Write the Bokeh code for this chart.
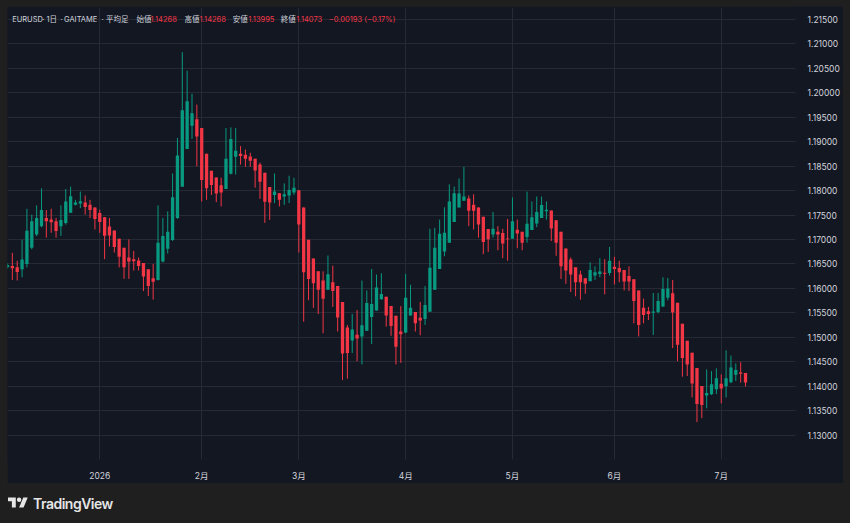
from bokeh.plotting import figure
from bokeh.models import Range1d, FixedTicker, NumeralTickFormatter, Label, Div
from bokeh.layouts import column
from bokeh.embed import file_html
from bokeh.resources import INLINE

# ---------------- data (Heikin-Ashi daily bars, EURUSD) ----------------
opens = [1.16430, 1.16456, 1.16430, 1.16390, 1.16497, 1.16829, 1.17103, 1.17272, 1.17440, 1.17406,
         1.17373, 1.17272, 1.17339, 1.17547, 1.17709, 1.17737, 1.17757, 1.17709, 1.17656, 1.17541,
         1.17454, 1.17264, 1.17183, 1.17016, 1.16829, 1.16632, 1.16598, 1.16571, 1.16517, 1.16390,
         1.16208, 1.16173, 1.16551, 1.16808, 1.16990, 1.17440, 1.18080, 1.18848, 1.19325, 1.19460,
         1.19278, 1.18753, 1.18404, 1.18268, 1.18107, 1.18032, 1.18343, 1.18692, 1.18753, 1.18733,
         1.18698, 1.18652, 1.18531, 1.18363, 1.18072, 1.17911, 1.17945, 1.17878, 1.17899, 1.17959,
         1.18006, 1.17656, 1.16996, 1.16612, 1.16349, 1.16161, 1.15971, 1.16127, 1.16046, 1.15723,
         1.15198, 1.14935, 1.15050, 1.15016, 1.15131, 1.15414, 1.15547, 1.15778, 1.15830, 1.15642,
         1.15440, 1.15117, 1.15097, 1.15446, 1.15515, 1.15400, 1.15374, 1.15521, 1.15971, 1.16396,
         1.16753, 1.16935, 1.17359, 1.17656, 1.17790, 1.17840, 1.17709, 1.17656, 1.17466, 1.17212,
         1.17103, 1.17157, 1.17131, 1.17022, 1.17016, 1.17198, 1.17157, 1.17050, 1.17192, 1.17325,
         1.17440, 1.17575, 1.17590, 1.17394, 1.17157, 1.16814, 1.16592, 1.16430, 1.16283, 1.16208,
         1.16147, 1.16262, 1.16295, 1.16319, 1.16315, 1.16440, 1.16416, 1.16375, 1.16254, 1.16188,
         1.15959, 1.15606, 1.15530, 1.15503, 1.15515, 1.15629, 1.15808, 1.15902, 1.15705, 1.15277,
         1.14928, 1.14686, 1.14370, 1.14003, 1.13810, 1.13835, 1.13938, 1.14050, 1.14001, 1.14082,
         1.14233, 1.14281, 1.14268]
highs = [1.16511, 1.16727, 1.16565, 1.16996, 1.17628, 1.17507, 1.17697, 1.18046, 1.17602, 1.17628,
         1.17440, 1.17697, 1.18032, 1.18080, 1.17810, 1.17979, 1.17899, 1.17810, 1.17656, 1.17608,
         1.17454, 1.17440, 1.17183, 1.17016, 1.16829, 1.17002, 1.16767, 1.16632, 1.16517, 1.16390,
         1.16497, 1.17697, 1.17440, 1.17575, 1.18349, 1.19076, 1.20828, 1.20450, 1.19979, 1.19757,
         1.19278, 1.18753, 1.18404, 1.18268, 1.18262, 1.19278, 1.19292, 1.19278, 1.18909, 1.18840,
         1.18773, 1.18652, 1.18571, 1.18363, 1.18072, 1.18349, 1.17945, 1.18147, 1.18303, 1.18262,
         1.18006, 1.17656, 1.16996, 1.16612, 1.16349, 1.16349, 1.16672, 1.16464, 1.16046, 1.15723,
         1.15252, 1.15475, 1.15555, 1.16161, 1.15959, 1.16396, 1.16283, 1.16309, 1.15830, 1.15642,
         1.15440, 1.15636, 1.16295, 1.16073, 1.15515, 1.15723, 1.16046, 1.17218, 1.17238, 1.17406,
         1.17656, 1.18127, 1.18080, 1.18248, 1.18484, 1.17899, 1.17925, 1.17656, 1.17466, 1.17212,
         1.17561, 1.17272, 1.17218, 1.17420, 1.17858, 1.17406, 1.17157, 1.17979, 1.17777, 1.17878,
         1.17878, 1.17777, 1.17590, 1.17394, 1.17157, 1.16814, 1.16632, 1.16430, 1.16363, 1.16208,
         1.16531, 1.16450, 1.16618, 1.16598, 1.16848, 1.16646, 1.16565, 1.16375, 1.16450, 1.16188,
         1.15959, 1.15790, 1.15622, 1.15905, 1.15905, 1.16228, 1.16214, 1.16173, 1.15705, 1.15277,
         1.14928, 1.14686, 1.14370, 1.14003, 1.14343, 1.14309, 1.14364, 1.14242, 1.14733, 1.14626,
         1.14465, 1.14491, 1.14268]
lows = [1.16410, 1.16173, 1.16161, 1.16228, 1.16430, 1.16800, 1.17070, 1.17252, 1.17036, 1.17137,
        1.17036, 1.17070, 1.17305, 1.17541, 1.17697, 1.17642, 1.17507, 1.17440, 1.17204, 1.17137,
        1.16598, 1.16854, 1.16733, 1.16430, 1.16194, 1.16194, 1.16363, 1.16363, 1.15945, 1.15844,
        1.15770, 1.16161, 1.16531, 1.16713, 1.16969, 1.17420, 1.18080, 1.18848, 1.19056, 1.18496,
        1.17777, 1.17810, 1.17911, 1.17763, 1.17676, 1.18032, 1.18329, 1.18329, 1.18531, 1.18484,
        1.18484, 1.18060, 1.17830, 1.17339, 1.17400, 1.17743, 1.17676, 1.17709, 1.17743, 1.17911,
        1.16733, 1.15319, 1.15757, 1.15602, 1.15475, 1.15083, 1.15971, 1.15622, 1.15117, 1.14127,
        1.14153, 1.14679, 1.14511, 1.14444, 1.15131, 1.14860, 1.15547, 1.15770, 1.15218, 1.15030,
        1.14444, 1.14477, 1.15083, 1.15446, 1.15117, 1.15042, 1.15252, 1.15521, 1.15971, 1.16396,
        1.16658, 1.16935, 1.17359, 1.17656, 1.17790, 1.17272, 1.17204, 1.17036, 1.16699, 1.16747,
        1.17036, 1.16780, 1.16618, 1.16565, 1.17016, 1.16820, 1.16780, 1.16935, 1.17192, 1.17252,
        1.17440, 1.17406, 1.16969, 1.16666, 1.16194, 1.16093, 1.15925, 1.15838, 1.15770, 1.15891,
        1.16147, 1.16173, 1.16228, 1.15879, 1.16262, 1.16081, 1.16127, 1.15959, 1.15945, 1.15285,
        1.15016, 1.15285, 1.15353, 1.15050, 1.15487, 1.15622, 1.15757, 1.14780, 1.14511, 1.14194,
        1.14208, 1.13770, 1.13265, 1.13346, 1.13548, 1.13820, 1.13838, 1.13649, 1.13770, 1.14061,
        1.14107, 1.14073, 1.13995]
closes = [1.16476, 1.16410, 1.16335, 1.16592, 1.17177, 1.17373, 1.17440, 1.17602, 1.17373, 1.17353,
          1.17171, 1.17400, 1.17777, 1.17884, 1.17757, 1.17783, 1.17662, 1.17602, 1.17420, 1.17359,
          1.17076, 1.17082, 1.16848, 1.16646, 1.16430, 1.16551, 1.16557, 1.16456, 1.16242, 1.16046,
          1.16133, 1.16935, 1.17070, 1.17157, 1.17864, 1.18719, 1.19642, 1.19824, 1.19581, 1.19103,
          1.18214, 1.18046, 1.18113, 1.17939, 1.17959, 1.18652, 1.19056, 1.18814, 1.18707, 1.18652,
          1.18612, 1.18410, 1.18181, 1.17769, 1.17757, 1.17979, 1.17810, 1.17925, 1.18012, 1.18060,
          1.17305, 1.16329, 1.16194, 1.16107, 1.15971, 1.15790, 1.16289, 1.15945, 1.15406, 1.14667,
          1.14679, 1.15157, 1.14976, 1.15244, 1.15703, 1.15683, 1.16020, 1.15885, 1.15446, 1.15232,
          1.14807, 1.15063, 1.15810, 1.15602, 1.15285, 1.15345, 1.15662, 1.16424, 1.16829, 1.17117,
          1.17137, 1.17777, 1.17945, 1.17939, 1.17878, 1.17587, 1.17587, 1.17305, 1.16949, 1.17002,
          1.17218, 1.17103, 1.16915, 1.17002, 1.17373, 1.17123, 1.16935, 1.17319, 1.17454, 1.17561,
          1.17703, 1.17608, 1.17224, 1.16935, 1.16450, 1.16363, 1.16283, 1.16127, 1.16127, 1.16093,
          1.16375, 1.16329, 1.16343, 1.16299, 1.16565, 1.16396, 1.16329, 1.16141, 1.16141, 1.15743,
          1.15252, 1.15454, 1.15475, 1.15527, 1.15743, 1.15986, 1.15996, 1.15507, 1.14848, 1.14578,
          1.14444, 1.14053, 1.13636, 1.13616, 1.13859, 1.14040, 1.14162, 1.13951, 1.14162, 1.14384,
          1.14329, 1.14255, 1.14073]

month_ticks = [19, 40, 60, 82, 104, 125, 147]          # bar index of first bar of each month
month_labels = ["2026", "2月", "3月", "4月", "5月", "6月", "7月"]
price_ticks = [1.130, 1.135, 1.140, 1.145, 1.150, 1.155, 1.160, 1.165, 1.170,
               1.175, 1.180, 1.185, 1.190, 1.195, 1.200, 1.205, 1.210, 1.215]
symbol_parts = ["EURUSD", "·", "1日", "·", "GAITAME", "·", "平均足"]
change = -0.00193
change_pct = -0.17

# ---------------- style ----------------
PANEL = "#131722"
OUTER = "#1f1f1f"
GRID = "#252a35"
UP = "#089981"
DOWN = "#f23645"
TXT = "#d1d4dc"
FONT = "Inter, 'Noto Sans CJK JP', sans-serif"

n = len(opens)
idx = list(range(n))
colors = [UP if c >= o else DOWN for o, c in zip(opens, closes)]
tops = [max(o, c) for o, c in zip(opens, closes)]
bottoms = [min(o, c) for o, c in zip(opens, closes)]

# frame geometry (pixels) and ranges
FW, FH = 792, 457
X0, X1 = 0.0, 792 / 4.88
Y0, Y1 = 1.12501, 1.21743

p = figure(width=836, height=477, x_range=Range1d(X0, X1), y_range=Range1d(Y0, Y1),
           output_backend="svg", toolbar_location=None, y_axis_location="right",
           background_fill_color=PANEL, border_fill_color=PANEL,
           min_border_left=0, min_border_top=1, min_border_right=44, min_border_bottom=19,
           outline_line_color=None, margin=(6, 7, 0, 7))

p.segment(x0=idx, y0=lows, x1=idx, y1=highs, line_color=colors, line_width=1)
p.vbar(x=idx, width=0.68, top=tops, bottom=bottoms, fill_color=colors, line_color=None)

# axes
p.yaxis.ticker = FixedTicker(ticks=price_ticks)
p.yaxis.formatter = NumeralTickFormatter(format="0.00000")
p.xaxis.ticker = FixedTicker(ticks=month_ticks)
p.xaxis.major_label_overrides = {t: l for t, l in zip(month_ticks, month_labels)}
for ax in (p.xaxis, p.yaxis):
    ax.axis_line_color = None
    ax.major_tick_line_color = None
    ax.minor_tick_line_color = None
    ax.major_label_text_color = TXT
    ax.major_label_text_font = FONT
    ax.major_label_text_font_size = "8.5px"
p.yaxis.major_label_standoff = 6
p.xaxis.major_label_standoff = 5

p.xgrid.ticker = FixedTicker(ticks=month_ticks)
p.ygrid.ticker = FixedTicker(ticks=price_ticks)
p.grid.grid_line_color = GRID
p.grid.grid_line_width = 1


def dx(px):
    return X0 + (px - 7) / FW * (X1 - X0)


def dy(py):
    return Y1 - (py - 7) / FH * (Y1 - Y0)


# header legend text
symbol_x = [11.7, 42.3, 46.2, 60.3, 63.8, 101.6, 106.0]
header = [(px, t, TXT) for px, t in zip(symbol_x, symbol_parts)] + [
    (136.7, "始値", TXT), (150.7, f"{opens[-1]:.5f}", DOWN),
    (185.0, "高値", TXT), (200.0, f"{highs[-1]:.5f}", DOWN),
    (233.3, "安値", TXT), (249.0, f"{lows[-1]:.5f}", DOWN),
    (281.7, "終値", TXT), (297.3, f"{closes[-1]:.5f}", DOWN),
    (330.0, f"−{abs(change):.5f} (−{abs(change_pct):.2f}%)", DOWN),
]
for px, txt, col in header:
    p.add_layout(Label(x=dx(px), y=dy(19), text=txt, text_color=col, text_font=FONT,
                       text_font_size="7.5px", text_align="left", text_baseline="middle"))

logo = Div(
    text=('<div style="display:flex;align-items:center;height:24px;">'
          '<svg width="20" height="16" viewBox="0 0 36 28">'
          '<path d="M14 22H7V11H0V4h14v18zM28 22h-8l7.5-18h8L28 22z" fill="#e6e6e6"/>'
          '<circle cx="20" cy="8" r="4" fill="#e6e6e6"/></svg>'
          '<span style="margin-left:5px;font:600 14px Inter, sans-serif;color:#e6e6e6;'
          'letter-spacing:-0.5px">TradingView</span></div>'),
    width=200, height=24, margin=(8, 0, 0, 8))

layout = column(p, logo, width=850, height=523, styles={"background-color": OUTER})

open("out.html", "w").write(file_html(layout, INLINE))
